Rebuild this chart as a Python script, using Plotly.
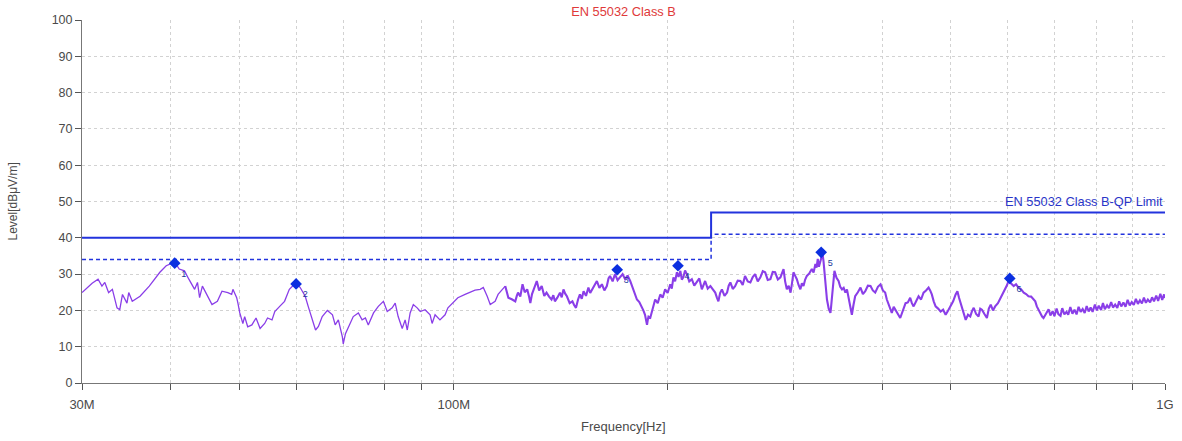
import plotly.graph_objects as go

# ---------------- data ----------------
title_text = "EN 55032 Class B"
limit_label = "EN 55032 Class B-QP Limit"

# measured trace (frequency in MHz, level in dBuV/m)
trace_freq_mhz = [
    30.0, 30.5, 31.0, 31.6, 32.0, 32.3, 32.7, 33.1, 33.6, 33.9, 34.2, 34.7, 34.9, 35.3, 36.2, 37.3,
    38.6, 39.4, 40.5, 41.1, 41.8, 42.4, 43.2, 43.6, 43.9, 44.3, 45.0, 45.7, 46.5, 47.2, 48.1, 48.7,
    48.9, 49.5, 49.7, 50.0, 50.5, 50.8, 51.3, 52.0, 52.7, 53.4, 54.2, 54.7, 55.5, 56.0, 56.9, 57.8,
    58.7, 60.0, 60.8,
    61.8, 62.4, 63.2, 63.9, 64.5, 65.3, 66.4, 67.5, 68.1, 68.8, 69.7, 69.9, 70.4, 71.1, 72.2, 73.4,
    74.3, 75.1, 75.8, 77.1, 78.3, 79.6, 80.6, 81.9, 82.7, 83.5, 84.6, 85.4, 86.0, 86.8, 87.7, 88.8,
    89.7, 91.1, 92.6, 93.2, 94.1, 95.6, 97.2, 98.1, 99.7, 101.3, 103.7, 105.4, 107.1, 108.9, 110.0,
    111.4, 112.5, 114.3, 115.4, 118.1, 119.3, 120.8,
    122.0, 122.6, 123.1, 124.0, 124.9, 125.8, 126.8, 127.5, 128.1, 128.8, 129.4, 130.1, 130.8, 131.8,
    132.9, 134.0, 135.0, 136.1, 137.2, 138.0, 138.7, 139.8, 141.0, 141.8, 142.6, 143.4, 144.2, 145.5,
    146.8, 147.6, 148.5, 149.5, 150.4, 151.3, 152.2, 153.4, 154.6, 155.5, 156.4, 157.6, 158.9, 160.2,
    161.5, 162.8, 164.1, 165.0, 165.8, 167.2, 168.5, 169.9, 171.3, 172.7, 174.1, 175.5, 177.0, 177.8,
    178.7, 179.8, 180.9, 182.3, 183.8, 184.7, 185.7, 186.3, 186.9, 187.4, 187.8, 188.9, 189.9, 190.9,
    191.9, 193.5, 195.1, 196.6, 198.2, 199.8, 201.5, 202.5, 203.6, 204.7, 205.9, 207.0, 208.2, 209.2,
    210.2, 211.4, 212.6, 214.3, 216.1, 217.8, 219.6, 221.4, 223.2, 224.4, 225.6, 227.5, 229.5, 231.3,
    233.1, 234.3, 235.5, 236.8, 238.2, 240.2, 242.2,
    243.5, 244.8, 246.7, 248.6, 250.7, 252.9, 254.8, 256.7, 259.0, 261.2, 263.2, 265.2, 267.5, 269.8,
    271.9, 274.0, 276.3, 278.7, 280.8, 283.0, 285.5, 287.9, 289.3, 290.8, 292.3, 293.9, 295.7, 297.5,
    298.9, 300.3, 302.0, 303.6, 305.3, 307.1, 308.6, 310.2, 311.9, 313.6, 316.1, 318.7, 320.5, 322.4,
    323.6, 324.9, 326.1, 327.4, 328.7, 329.9, 331.0, 332.1, 333.4, 334.7, 336.6, 338.5, 339.2, 339.9,
    341.4, 342.9, 345.2, 347.5, 349.4, 351.4, 353.3, 355.3, 357.1, 358.9, 360.8, 362.8, 364.7, 366.7,
    369.9, 373.1, 376.0, 378.9, 382.1, 385.4, 388.3, 391.3, 394.7, 398.1, 401.1, 404.1, 406.3, 408.6,
    410.7, 412.9, 415.4, 418.0, 421.1, 424.3, 428.0, 431.7, 434.9, 438.2, 440.6, 443.1, 446.7, 450.3,
    453.9, 457.6, 461.3, 465.1, 467.5, 470.0, 472.9, 475.8, 479.7, 483.6, 487.5, 491.5,
    495.5, 499.5, 503.6, 507.7, 509.1, 510.6, 513.3, 516.0, 520.2, 524.5, 528.4, 532.3, 535.3, 538.3,
    542.5, 546.8, 549.8, 552.8, 557.3, 561.8, 565.3, 568.8, 572.9, 577.0, 582.2, 587.5, 592.3, 597.1,
    599.7, 602.4, 607.5, 612.7, 617.4, 622.2, 627.5, 632.9, 637.8, 642.7, 648.2, 653.7, 657.0, 660.3,
    664.5, 668.7, 671.7, 674.8, 680.5,
    686.0, 690.0, 695.0, 699.0, 704.0, 708.0, 713.0, 717.0, 722.0, 727.0, 731.0, 736.0, 741.0, 746.0,
    751.0, 756.0, 761.0, 766.0, 771.0, 776.0, 781.0, 786.0, 791.0, 797.0, 802.0, 807.0, 813.0, 818.0,
    823.0, 829.0, 834.0, 840.0, 845.0, 851.0, 857.0, 862.0, 868.0, 874.0, 880.0, 886.0, 892.0, 898.0,
    904.0, 910.0, 916.0, 922.0, 928.0, 934.0, 940.0, 946.0, 953.0, 959.0, 965.0, 972.0, 978.0, 985.0,
    991.0, 997.0, 1000.0,
]
trace_level = [
    24.9, 26.3, 27.5, 28.6, 26.7, 27.7, 24.9, 25.8, 20.7, 20.2, 24.4, 22.0, 24.9, 22.5, 23.9, 26.7,
    30.5, 32.3, 33.3, 31.4, 30.9, 28.6, 25.8, 27.7, 23.5, 26.7, 23.9, 21.6, 22.5, 25.3, 24.9, 24.4,
    25.8, 23.5, 22.0, 19.3, 16.4, 18.3, 15.5, 16.0, 17.9, 15.0, 16.4, 17.9, 17.4, 19.7, 21.1, 22.5,
    25.8, 27.7, 26.3,
    23.9, 21.1, 17.4, 14.6, 15.6, 18.3, 20.0, 18.8, 16.0, 17.4, 12.7, 10.8, 13.6, 15.5, 18.3, 19.3,
    17.4, 17.9, 16.0, 19.3, 21.1, 22.5, 19.7, 20.7, 22.0, 18.3, 15.0, 17.4, 14.6, 19.3, 21.6, 20.7,
    19.7, 20.2, 18.8, 16.4, 18.8, 17.4, 18.8, 20.7, 22.0, 23.5, 24.4, 24.9, 25.6, 25.8, 26.3,
    23.9, 21.6, 22.5, 24.4, 26.7, 23.5, 23.0,
    22.5, 24.0, 24.9, 23.8, 27.2, 25.0, 25.8, 24.0, 22.0, 24.5, 25.8, 27.0, 28.1, 25.5,
    26.7, 24.0, 24.9, 23.8, 23.0, 24.2, 22.5, 23.5, 24.9, 23.6, 25.8, 24.6, 23.9, 22.0,
    22.5, 21.5, 20.7, 23.0, 24.4, 23.2, 25.3, 24.0, 26.3, 24.8, 25.8, 27.0, 28.1, 26.2,
    27.2, 25.5, 26.7, 28.8, 29.5, 28.0, 30.0, 28.3, 29.1, 30.0, 28.6, 29.6, 28.1, 27.0,
    25.8, 24.5, 23.0, 22.3, 21.1, 20.0, 18.8, 17.0, 16.0, 17.5, 18.3, 18.0, 19.7, 21.5,
    23.0, 22.0, 24.4, 23.5, 25.8, 24.8, 27.2, 26.0, 29.1, 28.0, 30.5, 29.2, 30.9, 28.5,
    29.1, 31.0, 30.0, 28.0, 28.6, 26.8, 27.7, 28.8, 25.8, 26.8, 28.1, 26.0, 26.7, 25.8,
    24.9, 23.6, 22.5, 24.8, 25.8, 24.0, 24.9,
    26.8, 27.7, 25.9, 26.7, 28.2, 28.1, 27.0, 29.5, 28.0, 27.7, 29.2, 30.0, 28.0, 29.1,
    30.8, 30.5, 28.4, 28.6, 30.6, 30.5, 28.5, 29.1, 30.2, 31.4, 28.0, 25.8, 26.8, 24.9,
    27.5, 30.5, 29.5, 28.6, 27.0, 25.8, 27.5, 26.7, 28.5, 29.5, 30.2, 31.4, 30.4, 32.8,
    31.8, 34.2, 32.0, 33.3, 35.0, 35.7, 33.5, 30.5, 26.5, 23.0, 20.5, 19.3, 21.0, 23.0,
    27.0, 30.9, 29.0, 28.1, 26.5, 25.8, 26.2, 24.9, 25.8, 23.5, 21.0, 18.8, 21.5, 23.9,
    25.0, 26.3, 24.5, 25.3, 26.8, 26.7, 25.5, 24.9, 26.5, 27.2, 25.5, 24.9, 23.0, 21.6,
    20.0, 19.3, 21.0, 20.2, 19.0, 17.9, 20.0, 22.0, 22.2, 23.5, 22.0, 21.1, 22.5, 23.9,
    23.0, 24.9, 25.5, 26.3, 25.5, 24.4, 22.5, 21.1, 20.5, 19.7, 20.2, 18.8,
    20.0, 21.1, 22.5, 24.4, 25.0, 25.3, 23.5, 22.0, 19.5, 17.4, 18.8, 18.3, 19.8, 20.7,
    19.0, 18.3, 20.5, 20.2, 19.0, 17.9, 20.5, 21.6, 20.0, 21.1, 22.0, 23.5, 24.8, 26.3,
    27.0, 28.1, 27.5, 26.7, 27.2, 26.3, 25.8, 24.9, 24.5, 23.9, 23.8, 23.0, 22.5, 21.1,
    20.0, 19.3, 18.3, 17.9, 19.0,
    20.3, 18.6, 19.8, 18.4, 20.5, 19.0, 18.5, 20.6, 18.9, 19.6, 18.8, 20.9, 19.1, 20.2,
    18.9, 21.0, 19.6, 20.4, 19.3, 21.2, 19.7, 20.8, 19.6, 21.6, 20.0, 21.3, 20.1, 22.0,
    20.3, 21.4, 20.6, 22.3, 20.8, 21.6, 20.7, 22.5, 21.1, 22.2, 21.0, 22.9, 21.4, 22.3,
    21.5, 23.2, 21.8, 22.8, 21.9, 23.5, 22.1, 23.0, 22.2, 23.6, 22.5, 24.1, 22.6, 24.6,
    22.9, 24.4, 23.4,
]

# final peak markers
peak_freq_mhz = [40.5, 60.0, 169.7, 206.6, 328.5, 604.9]
peak_level = [33.0, 27.3, 31.2, 32.3, 36.0, 28.8]
peak_labels = ["1", "2", "3", "4", "5", "6"]

# limit lines
limit_freq_mhz = [30.0, 230.0, 230.0, 1000.0]
qp_limit = [40.0, 40.0, 47.0, 47.0]
qp_margin = [34.0, 34.0, 41.0, 41.0]

# axes
y_ticks = [0, 10, 20, 30, 40, 50, 60, 70, 80, 90, 100]
x_grid_mhz = [30, 40, 50, 60, 70, 80, 90, 100, 200, 300, 400, 500, 600, 700, 800, 900, 1000]
x_tick_text = {30: "30M", 100: "100M", 1000: "1G"}

MHZ = 1e6
SPLIT_MHZ = 118.1  # the sweep gets denser above this frequency (shared point)

# ---------------- figure ----------------
fig = go.Figure()

fig.add_trace(go.Scatter(
    x=[f * MHZ for f in limit_freq_mhz], y=qp_limit, mode="lines",
    line=dict(color="#2233dd", width=2), hoverinfo="skip", showlegend=False))
fig.add_trace(go.Scatter(
    x=[f * MHZ for f in limit_freq_mhz], y=qp_margin, mode="lines",
    line=dict(color="#2233dd", width=1.5, dash="4px,3px"), hoverinfo="skip", showlegend=False))

lf = [(f, v) for f, v in zip(trace_freq_mhz, trace_level) if f <= SPLIT_MHZ]
hf = [(f, v) for f, v in zip(trace_freq_mhz, trace_level) if f >= SPLIT_MHZ]
fig.add_trace(go.Scatter(
    x=[f * MHZ for f, _ in lf], y=[v for _, v in lf], mode="lines",
    line=dict(color="#8a3ee8", width=1.3), showlegend=False))
fig.add_trace(go.Scatter(
    x=[f * MHZ for f, _ in hf], y=[v for _, v in hf], mode="lines",
    line=dict(color="#8a3ee8", width=2.1), showlegend=False))

font_family = "Liberation Sans, Arial, sans-serif"

fig.add_trace(go.Scatter(
    x=[f * MHZ for f in peak_freq_mhz], y=peak_level, mode="markers+text",
    marker=dict(symbol="diamond", size=9, color="#0b2fe0"),
    text=peak_labels, textposition="bottom right",
    textfont=dict(size=9, color="#1a3a9a", family=font_family),
    showlegend=False))

fig.update_layout(
    width=1182, height=441,
    margin=dict(l=82, r=17, t=20, b=58),
    paper_bgcolor="white", plot_bgcolor="white",
    font=dict(family=font_family, size=13, color="#4a4a4a"),
    title=dict(text=title_text, x=623.5 / 1182, xanchor="center", y=1 - 12 / 441, yanchor="middle",
               font=dict(color="#e03a3a", size=12.8, family=font_family)),
    showlegend=False,
)

fig.update_xaxes(
    type="log", range=[7.4771, 9.0], automargin=False,
    tickvals=[f * MHZ for f in x_grid_mhz],
    ticktext=[x_tick_text.get(f, "") for f in x_grid_mhz],
    showgrid=True, gridcolor="#d2d2d2", griddash="dot", gridwidth=1,
    showline=True, linecolor="#777", linewidth=1,
    ticks="outside", ticklen=6, tickcolor="#555", tickwidth=1,
    ticklabelstandoff=3,
    tickfont=dict(size=13, color="#4a4a4a"),
    zeroline=False,
)
fig.update_yaxes(
    range=[0, 100], tickvals=y_ticks, automargin=False,
    showgrid=True, gridcolor="#d2d2d2", griddash="dot", gridwidth=1,
    showline=True, linecolor="#777", linewidth=1,
    ticks="outside", ticklen=6, tickcolor="#555", tickwidth=1,
    tickfont=dict(size=12.5, color="#4a4a4a"),
    zeroline=False,
)

fig.add_annotation(
    text="Level[dBμV/m]", textangle=-90, xref="paper", yref="paper",
    x=(12 - 82) / 1083, y=0.5, xanchor="center", yanchor="middle", showarrow=False,
    font=dict(size=12, color="#4a4a4a"))

fig.add_annotation(
    text="Frequency[Hz]", xref="paper", yref="paper",
    x=0.5, y=-(427 - 383) / 363, xanchor="center", yanchor="middle", showarrow=False,
    font=dict(size=13, color="#4a4a4a"))

fig.add_annotation(
    text=limit_label, xref="x", yref="y", x=9.0, y=50.0,
    xanchor="right", yanchor="middle", showarrow=False,
    font=dict(size=12.8, color="#2a35c8"))

fig.write_html("out.html")
